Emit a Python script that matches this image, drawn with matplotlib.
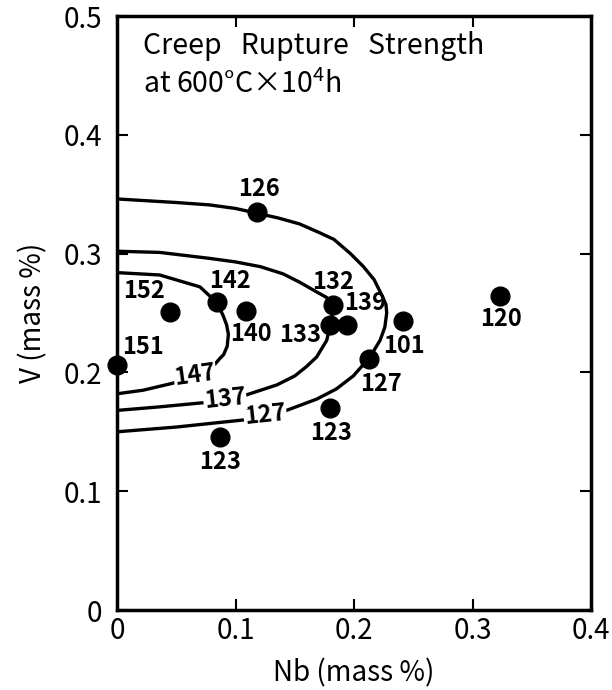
import matplotlib
matplotlib.use("Agg")
import matplotlib.pyplot as plt

plt.rcParams["font.family"] = ["Noto Sans CJK JP", "DejaVu Sans"]
plt.rcParams["mathtext.fontset"] = "custom"
plt.rcParams["mathtext.rm"] = "Noto Sans CJK JP"
plt.rcParams["mathtext.it"] = "Noto Sans CJK JP"
plt.rcParams["mathtext.default"] = "rm"

# Measured steels: Nb, V contents and creep rupture strength (MPa)
steel_nb = [0.118, 0.045, 0.084, 0.109, 0.000, 0.1825, 0.180, 0.194, 0.2415, 0.3236, 0.2125, 0.180, 0.087]
steel_v = [0.335, 0.251, 0.259, 0.252, 0.206, 0.257, 0.240, 0.240, 0.243, 0.2645, 0.211, 0.170, 0.146]
strength = [126, 152, 142, 140, 151, 132, 133, 139, 101, 120, 127, 123, 123]

# Iso-strength curves
iso_127_nb = [0.000, 0.050, 0.078, 0.100, 0.118, 0.136, 0.154, 0.170, 0.183, 0.197, 0.208, 0.217,
              0.2235, 0.2270, 0.2276, 0.2260, 0.2220, 0.2135, 0.1994, 0.1850, 0.1685, 0.1430,
              0.1070, 0.0500, 0.000]
iso_127_v = [0.346, 0.343, 0.341, 0.338, 0.334, 0.330, 0.325, 0.318, 0.312, 0.300, 0.289, 0.278,
             0.265, 0.257, 0.250, 0.238, 0.227, 0.213, 0.197, 0.186, 0.1775, 0.168,
             0.160, 0.154, 0.150]
iso_137_nb = [0.000, 0.036, 0.078, 0.100, 0.121, 0.140, 0.154, 0.168, 0.177, 0.1825, 0.1815,
              0.180, 0.177, 0.1685, 0.160, 0.150, 0.135, 0.109, 0.073, 0.036, 0.000]
iso_137_v = [0.302, 0.301, 0.296, 0.293, 0.289, 0.283, 0.276, 0.268, 0.263, 0.257, 0.248,
             0.240, 0.227, 0.213, 0.205, 0.197, 0.1895, 0.181, 0.1745, 0.171, 0.168]
iso_147_nb = [0.000, 0.036, 0.070, 0.084, 0.0895, 0.0925, 0.094, 0.093, 0.090, 0.087, 0.081,
              0.070, 0.0475, 0.022, 0.000]
iso_147_v = [0.284, 0.282, 0.272, 0.259, 0.248, 0.240, 0.232, 0.222, 0.215, 0.212, 0.205,
             0.199, 0.191, 0.185, 0.182]
iso_levels = [127, 137, 147]
iso_label_nb = [0.125, 0.091, 0.0658]
iso_label_v = [0.164, 0.178, 0.198]

x_ticks = [0, 0.1, 0.2, 0.3, 0.4]
x_tick_labels = ["0", "0.1", "0.2", "0.3", "0.4"]
y_ticks = [0, 0.1, 0.2, 0.3, 0.4, 0.5]
y_tick_labels = ["0", "0.1", "0.2", "0.3", "0.4", "0.5"]

# label offsets (pixels, +y downward)
label_offsets = [(2, -23), (-26, -21), (13, -21), (5, 23), (26, -18), (0, -23), (-30, 10),
                 (18, -22), (1, 25), (1, 23), (12, 25), (1, 25), (0, 25)]
iso_label_rot = [6, 6, 8]

W, H = 612, 690
fig = plt.figure(figsize=(W / 100, H / 100), dpi=100)
ax = fig.add_axes([117 / W, 1 - 610 / H, 474 / W, 594 / H])

for nb, v in [(iso_127_nb, iso_127_v), (iso_137_nb, iso_137_v), (iso_147_nb, iso_147_v)]:
    ax.plot(nb, v, color="black", lw=2.4, solid_capstyle="round", zorder=2)

for lvl, x, y, rot in zip(iso_levels, iso_label_nb, iso_label_v, iso_label_rot):
    ax.text(x, y, str(lvl), fontsize=17, fontweight="bold", ha="center", va="center",
            rotation=rot, bbox=dict(facecolor="white", edgecolor="none", pad=0.5), zorder=4)

ax.plot(steel_nb, steel_v, "o", color="black", markersize=13.5, clip_on=False, zorder=5)

pt = 72 / 100
for x, y, s, (dx, dy) in zip(steel_nb, steel_v, strength, label_offsets):
    ax.annotate(str(s), (x, y), xytext=(dx * pt, -dy * pt), textcoords="offset points",
                ha="center", va="center", fontsize=17, fontweight="bold", zorder=6)

ax.set_xlim(0, 0.4)
ax.set_ylim(0, 0.5)
ax.set_xticks(x_ticks)
ax.set_xticklabels(x_tick_labels)
ax.set_yticks(y_ticks)
ax.set_yticklabels(y_tick_labels)
ax.tick_params(direction="in", length=8, width=1.5, top=True, right=True,
               labelsize=20, color="black")
ax.tick_params(axis="x", pad=4)
ax.tick_params(axis="y", pad=11)
for sp in ax.spines.values():
    sp.set_linewidth(2.5)

ax.set_xlabel("Nb (mass %)", fontsize=20, labelpad=9)
ax.set_ylabel("V (mass %)", fontsize=20, labelpad=11)

ax.text(0.055, 0.949, "Creep   Rupture   Strength", transform=ax.transAxes,
        fontsize=20.5, ha="left", va="center")
ax.text(0.055, 0.884, r"at 600°C×10$^{4}$h", transform=ax.transAxes,
        fontsize=20.5, ha="left", va="center")

fig.savefig("out.png", dpi=100)
